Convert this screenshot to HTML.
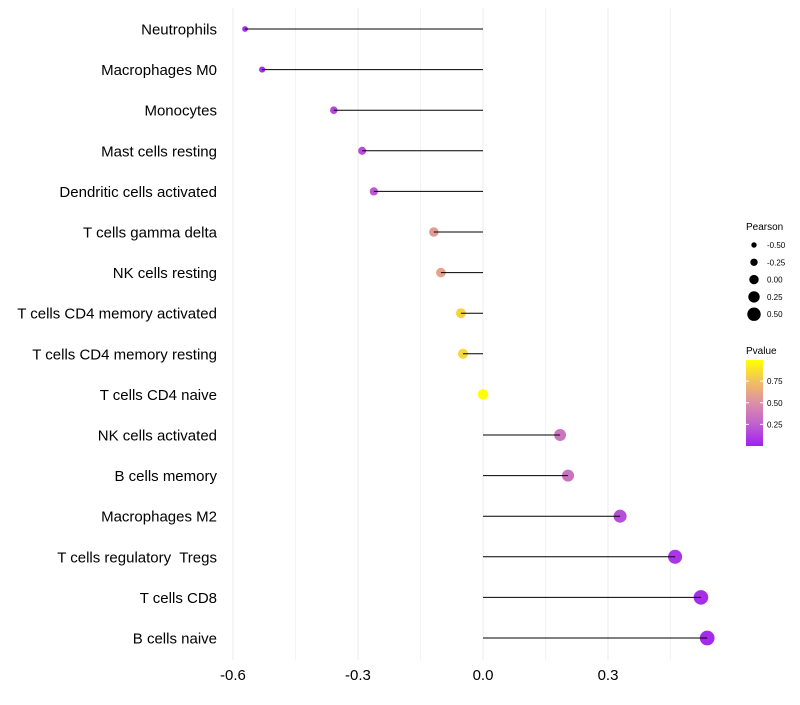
<!DOCTYPE html>
<html><head><meta charset="utf-8"><style>
body{margin:0;background:#fff;font-family:"Liberation Sans",sans-serif;}
</style></head><body>
<svg id="chart" width="800" height="700" xmlns="http://www.w3.org/2000/svg">
<defs><linearGradient id="pg" x1="0" y1="1" x2="0" y2="0">
<stop offset="0" stop-color="#A020F0"/><stop offset="0.25" stop-color="#C060D0"/><stop offset="0.5" stop-color="#DC8FA8"/><stop offset="0.75" stop-color="#F2C060"/><stop offset="1" stop-color="#FFFF00"/>
</linearGradient></defs>
<g id="grid"></g><g id="dots"></g><g id="marks"></g><g id="labels"></g><g id="legend"></g>
</svg>
<script>
const categories=["Neutrophils","Macrophages M0","Monocytes","Mast cells resting","Dendritic cells activated","T cells gamma delta","NK cells resting","T cells CD4 memory activated","T cells CD4 memory resting","T cells CD4 naive","NK cells activated","B cells memory","Macrophages M2","T cells regulatory  Tregs","T cells CD8","B cells naive"];
const pearson=[-0.571,-0.530,-0.358,-0.290,-0.262,-0.118,-0.101,-0.053,-0.048,0.0,0.185,0.204,0.329,0.461,0.523,0.538];
const pvalue=[0.05,0.06,0.15,0.18,0.22,0.56,0.6,0.83,0.84,1.0,0.36,0.34,0.18,0.08,0.05,0.04];
const xTicks=[-0.6,-0.3,0.0,0.3];
const xTickLabels=["-0.6","-0.3","0.0","0.3"];
const legendSizes=[-0.5,-0.25,0,0.25,0.5];
const legendSizeLabels=["-0.50","-0.25","0.00","0.25","0.50"];
const pTicks=[0.25,0.5,0.75];
const pTickLabels=["0.25","0.50","0.75"];
const NS="http://www.w3.org/2000/svg";
const x=v=>483+v*416.7;
const y=i=>29+i*40.6;
const r=v=>5.2+4*v;
function lerp(a,b,t){return a+(b-a)*t;}
const stops=[[0,[160,32,240]],[0.25,[192,96,208]],[0.5,[220,143,168]],[0.75,[242,192,96]],[1,[255,255,0]]];
function pcol(p){for(let k=0;k<stops.length-1;k++){const[a,ca]=stops[k],[b,cb]=stops[k+1];if(p<=b){const t=(p-a)/(b-a);return `rgb(${ca.map((c,j)=>Math.round(lerp(c,cb[j],t))).join(',')})`;}}return 'rgb(255,255,0)';}
function mk(tag,attrs,parent,text){const e=document.createElementNS(NS,tag);for(const k in attrs)e.setAttribute(k,attrs[k]);if(text!==undefined)e.textContent=text;document.getElementById(parent).appendChild(e);return e;}
for(let v=-0.6;v<=0.46;v+=0.15){const e=mk('line',{x1:x(v),x2:x(v),y1:8,y2:660,stroke:'#ebebeb','stroke-width':Math.abs((v/0.3)-Math.round(v/0.3))<0.01?1:0.6},'grid');

}
xTicks.forEach((v,i)=>{const t=mk('text',{x:x(v),y:680,'text-anchor':'middle','font-size':15,fill:'#000'},'labels',xTickLabels[i]);

});
categories.forEach((c,i)=>{
const t=mk('text',{x:217,y:y(i)+5.5,'text-anchor':'end','font-size':15,fill:'#000'},'labels',c);


t.setAttribute('xml:space','preserve');
t.style.whiteSpace='pre';
const d=mk('circle',{cx:x(pearson[i]),cy:y(i),r:r(pearson[i]),fill:pcol(pvalue[i])},'dots');


const l=mk('line',{x1:x(0),x2:x(pearson[i]),y1:y(i),y2:y(i),stroke:'#000','stroke-width':1},'marks');


});
const lt=mk('text',{x:746,y:230,'font-size':10,fill:'#000'},'legend','Pearson');


legendSizes.forEach((v,i)=>{const cy=245+i*17.3;
const c=mk('circle',{cx:754,cy:cy,r:r(v)-0.5,fill:'#000'},'legend');


const t=mk('text',{x:767,y:cy+3,'font-size':8,fill:'#000'},'legend',legendSizeLabels[i]);

});
const pt=mk('text',{x:746,y:354,'font-size':10,fill:'#000'},'legend','Pvalue');


const cb=mk('rect',{x:746,y:360,width:17,height:86,fill:'url(#pg)'},'legend');


const py=p=>446-p*86.5;
pTicks.forEach((p,i)=>{
mk('line',{x1:746,x2:749,y1:py(p),y2:py(p),stroke:'#fff'},'legend');
mk('line',{x1:760,x2:763,y1:py(p),y2:py(p),stroke:'#fff'},'legend');
const t=mk('text',{x:767,y:py(p)+3,'font-size':8,fill:'#000'},'legend',pTickLabels[i]);

});
</script>
</body></html>
